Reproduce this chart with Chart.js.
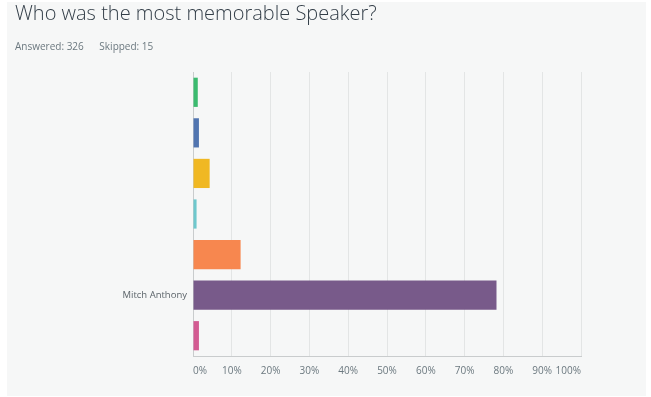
<!DOCTYPE html>
<html>
<head>
<meta charset="utf-8">
<script src="https://cdn.jsdelivr.net/npm/chart.js@4"></script>
<style>
  html, body { margin: 0; padding: 0; background: #ffffff; }
  #wrap { position: relative; width: 651px; height: 397px; }
  #panel { position: absolute; left: 7px; top: 2px; width: 639px; height: 394px; background: #f6f7f7; }
  #c { position: absolute; left: 0; top: 0; }
</style>
</head>
<body>
<div id="wrap">
  <div id="panel"></div>
  <canvas id="c" width="651" height="397"></canvas>
</div>
<script>
const titleText = 'Who was the most memorable Speaker?';
const subtitleText = 'Answered: 326      Skipped: 15';
const categories = ['', '', '', '', '', 'Mitch Anthony', ''];
const percentValues = [1.23, 1.53, 4.29, 0.92, 12.27, 78.22, 1.53];
const barColors = ['#3bbb6f', '#5175b0', '#f0b823', '#6ec8cd', '#f7874f', '#785a8a', '#d35b92'];
const tickValues = [0, 10, 20, 30, 40, 50, 60, 70, 80, 90, 100];

const FONT = "'Open Sans', 'DejaVu Sans', sans-serif";

new Chart(document.getElementById('c'), {
  type: 'bar',
  data: {
    labels: categories,
    datasets: [{
      data: percentValues,
      backgroundColor: barColors,
      borderWidth: 0,
      barPercentage: 0.72,
      categoryPercentage: 1.0
    }]
  },
  options: {
    indexAxis: 'y',
    responsive: false,
    animation: false,
    devicePixelRatio: 1,
    layout: { padding: { left: 15, right: 70, top: 0, bottom: 0 } },
    plugins: {
      legend: { display: false },
      tooltip: { enabled: false },
      title: {
        display: true,
        text: titleText,
        align: 'start',
        color: '#333e48',
        font: { family: FONT, size: 20, weight: '300', lineHeight: 1.2 },
        padding: { top: 2, bottom: 14 }
      },
      subtitle: {
        display: true,
        text: subtitleText,
        align: 'start',
        color: '#6b787f',
        font: { family: FONT, size: 10, weight: '400', lineHeight: 1.2 },
        padding: { top: 1, bottom: 19 }
      }
    },
    scales: {
      x: {
        type: 'linear',
        min: 0,
        max: 100,
        afterBuildTicks: (axis) => { axis.ticks = tickValues.map(v => ({ value: v })); },
        afterFit: (axis) => { axis.height = 41; },
        grid: { color: '#e3e5e5', lineWidth: 1, drawTicks: false },
        border: { display: true, color: '#c9cccd', width: 1 },
        ticks: {
          color: '#6b787f',
          font: { family: FONT, size: 10 },
          padding: 9,
          align: 'inner',
          maxRotation: 0,
          autoSkip: false,
          callback: (v) => v + '%'
        }
      },
      y: {
        afterFit: (axis) => { axis.width = 178; },
        grid: { display: false, drawTicks: false },
        border: { display: true, color: '#c9cccd', width: 1 },
        ticks: {
          color: '#5b6369',
          font: { family: FONT, size: 9.5 },
          padding: 6,
          autoSkip: false
        }
      }
    }
  }
});
</script>
</body>
</html>
